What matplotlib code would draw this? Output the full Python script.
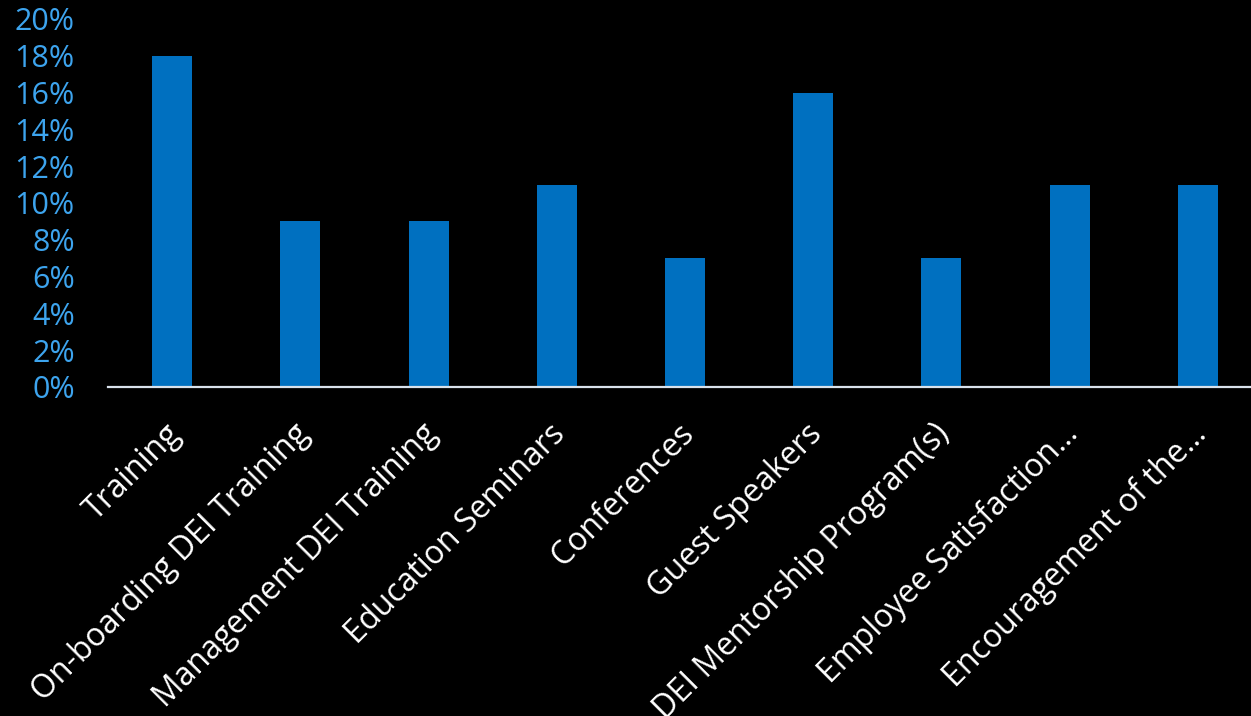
import matplotlib
matplotlib.use("Agg")
import matplotlib.pyplot as plt
import matplotlib.transforms as mtransforms
from matplotlib.ticker import PercentFormatter

categories = ["Training", "On-boarding DEI Training", "Management DEI Training",
              "Education Seminars", "Conferences", "Guest Speakers",
              "DEI Mentorship Program(s)", "Employee Satisfaction…",
              "Encouragement of the…"]
values = [18, 9, 9, 11, 7, 16, 7, 11, 11]
yticks = list(range(0, 21, 2))

plt.rcParams['font.family'] = ['Open Sans', 'DejaVu Sans']

W, H = 1251, 716
fig = plt.figure(figsize=(W / 100, H / 100), dpi=100, facecolor='black')
left, right, bottom, top = 108, 1262, 387, 19
ax = fig.add_axes([left / W, (H - bottom) / H, (right - left) / W, (bottom - top) / H])
ax.set_facecolor('black')

x = list(range(len(categories)))
ax.bar(x, values, width=0.312, color='#0070C0', zorder=2)
ax.set_xlim(-0.5, len(categories) - 0.5)
ax.set_ylim(0, 20)
ax.set_yticks(yticks)
ax.yaxis.set_major_formatter(PercentFormatter(decimals=0))

for s in ['top', 'right', 'left']:
    ax.spines[s].set_visible(False)
ax.spines['bottom'].set_color('#D9E2EC')
ax.spines['bottom'].set_linewidth(1.6)

ax.tick_params(axis='y', length=0, labelsize=22, labelcolor='#3DA4EE', pad=24)
ax.tick_params(axis='x', length=0, labelsize=23, labelcolor='white', pad=22)
ax.set_xticks(x)
ax.set_xticklabels(categories, rotation=45, ha='right', va='top', rotation_mode='anchor')
offset = mtransforms.ScaledTranslation(-8 / 100, 0, fig.dpi_scale_trans)
for lab in ax.get_xticklabels():
    lab.set_transform(lab.get_transform() + offset)

fig.savefig('out.png', dpi=100, facecolor='black')
